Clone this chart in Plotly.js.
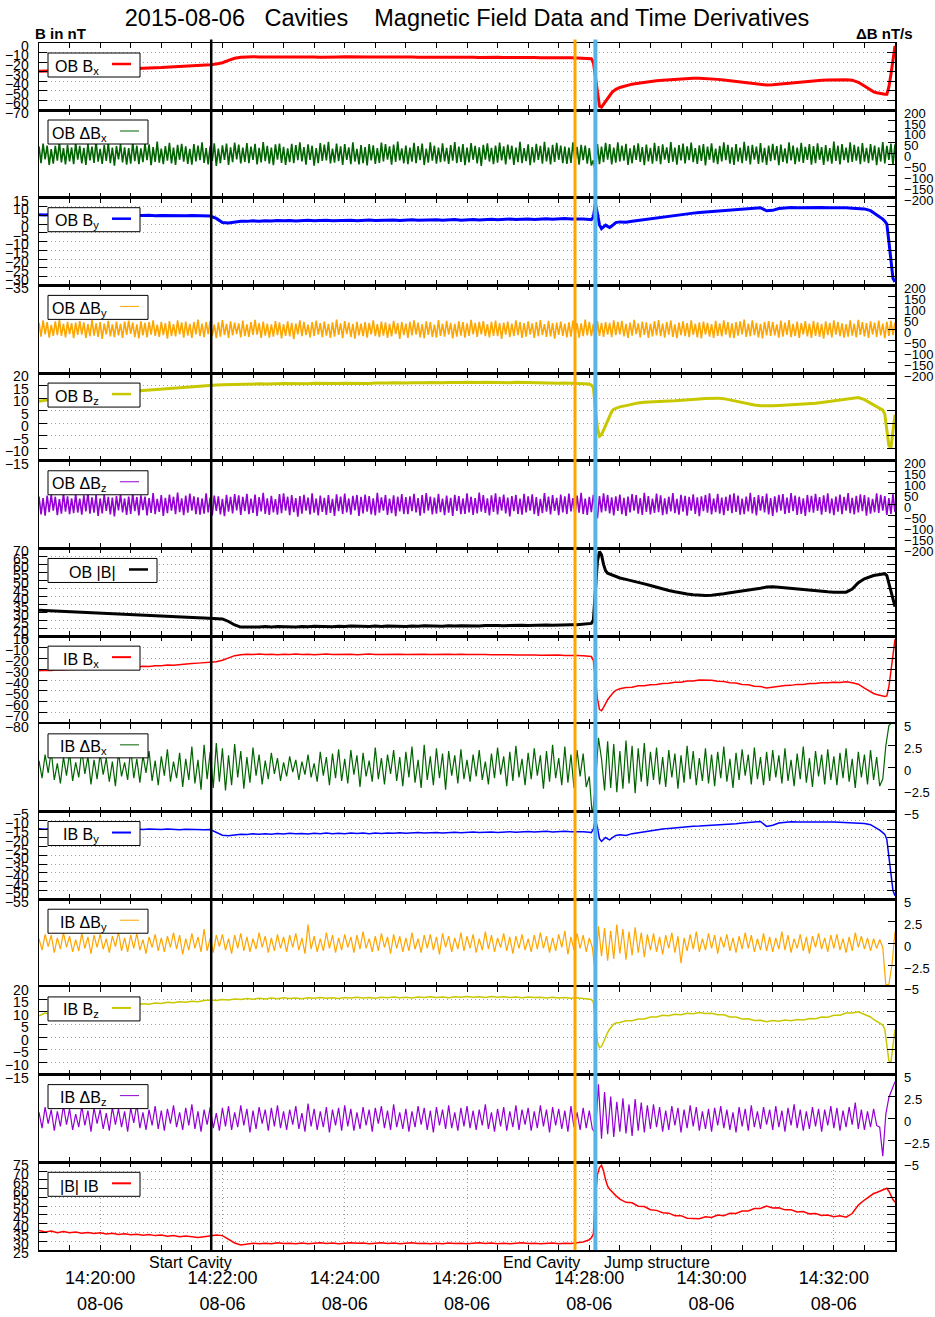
<!DOCTYPE html>
<html><head><meta charset="utf-8">
<script src="https://cdn.plot.ly/plotly-3.0.1.min.js"></script>
<style>html,body{margin:0;padding:0;background:#fff}#chart{width:935px;height:1317px}</style>
</head><body><div id="chart"></div>
<script>
// ---------------- DATA ----------------
// time of B samples, seconds after 2015-08-06 14:19:00
const tB = [
0,6,12,18,24,30,36,42,48,54,
60,66,72,78,84,90,96,102,108,114,
120,126,132,138,144,150,156,162,168,174,
180,186,192,198,204,210,216,222,228,234,
240,246,252,258,264,270,276,282,288,294,
300,306,312,318,324,330,336,342,348,354,
360,366,372,378,384,390,396,402,408,414,
420,426,432,438,444,450,456,462,468,474,
480,486,492,498,504,510,516,522,528,534,
540,
542,544,546,548,550,552,554,556,558,560,562,564,566,
570,576,582,588,594,600,606,612,618,624,
630,636,642,648,654,660,666,672,678,684,
690,696,702,708,714,720,726,732,738,744,
750,756,762,768,774,780,786,792,798,804,
810,816,
819,822,825,828,830,832,834,836,838,840];

const obBx = [
-29.5,-29.2,-29.3,-28.8,-28.9,-28.4,-28.5,-28.1,-28.2,-27.8,
-27.8,-27.4,-27.5,-27.1,-27.1,-26.7,-26.6,-26.3,-26.2,-25.9,
-25.7,-25.4,-25.2,-24.8,-24.5,-24.1,-23.6,-23.1,-22.6,-22.0,
-20.6,-18.2,-16.0,-14.9,-14.5,-14.4,-14.6,-14.3,-14.5,-14.7,
-14.4,-14.6,-14.5,-14.7,-14.4,-14.6,-14.8,-14.5,-14.7,-14.6,
-14.4,-14.6,-14.8,-14.5,-14.7,-14.6,-14.9,-14.7,-14.5,-14.8,
-14.6,-14.7,-14.9,-14.6,-14.8,-14.9,-14.6,-14.8,-15.0,-14.8,
-14.7,-14.9,-15.1,-14.8,-15.0,-14.9,-15.1,-15.0,-15.2,-15.1,
-15.3,-15.2,-15.4,-15.3,-15.5,-15.4,-15.6,-15.5,-15.7,-15.8,
-16.0,
-16.5,-20,-35,-55,-66,-67,-64,-60,-57,-54.5,-52,-50,-48.5,
-46.5,-44.5,-43,-42,-41,-40.2,-39.5,-39,-38.5,-38,
-37.6,-37.2,-36.9,-36.8,-37,-37.4,-38,-38.7,-39.5,-40.3,
-41.2,-42,-42.8,-43.5,-44,-43.6,-43,-42.2,-41.5,-40.8,
-40.2,-39.6,-39.2,-38.9,-38.6,-38.4,-38.3,-38.3,-38.8,-41,
-45,-49.5,
-51,-52,-52.8,-53.2,-53.5,-53.5,-46,-33,-18,-3];

const obBy = [
5.3,5.1,5.4,5.2,5.3,5.0,5.2,5.1,5.3,5.0,
5.1,4.9,5.1,5.0,4.8,5.0,4.9,4.8,5.0,4.7,
4.9,4.8,4.6,4.8,4.7,4.8,4.6,4.7,4.5,3.2,
0.8,0.6,1.2,1.6,1.5,1.8,1.6,1.9,1.7,2.0,
1.8,2.0,1.7,1.9,2.1,1.8,2.0,2.2,1.9,2.1,
2.0,2.2,1.9,2.1,2.3,2.0,2.2,2.1,2.3,2.0,
2.2,2.4,2.1,2.3,2.2,2.4,2.1,2.3,2.5,2.2,
2.4,2.6,2.3,2.5,2.7,2.4,2.6,2.8,2.5,2.7,
2.9,2.6,2.8,3.0,2.7,2.9,3.1,2.8,3.0,2.8,
2.6,
2.5,4,11.5,6,-0.5,-2.6,-1.8,-0.6,-1.4,-2,-1.2,-0.2,0.8,
1.2,1.0,1.6,2.1,2.6,3.0,3.5,4.0,4.4,4.9,
5.4,5.8,6.2,6.5,6.8,7.0,7.1,7.3,7.6,8.0,
8.4,8.8,9.1,9.3,7.5,7.8,8.8,9.2,9.4,9.3,
9.4,9.3,9.2,9.4,9.2,9.3,9.1,9.2,9.0,9.0,
8.6,7.6,
6.4,5.4,4.2,2.8,1.6,0,-10,-22,-31,-33];

const obBz = [
8.7,9.2,9.6,9.9,10.2,10.5,10.8,11.0,11.3,11.5,
11.7,11.9,12.1,12.3,12.4,12.6,12.8,13.0,13.2,13.4,
13.6,13.8,14.0,14.2,14.4,14.6,14.8,14.9,15.0,15.2,
15.3,15.4,15.5,15.5,15.6,15.6,15.7,15.6,15.8,15.7,
15.8,15.7,15.9,15.8,15.7,15.9,15.8,15.9,15.7,15.8,
15.9,15.8,16.0,15.9,15.8,16.0,15.9,16.0,16.1,15.9,
16.0,16.1,16.0,16.1,16.2,16.0,16.1,16.2,16.1,16.2,
16.3,16.1,16.2,16.3,16.2,16.3,16.2,16.1,16.3,16.2,
16.1,16.2,16.0,16.1,16.0,15.9,16.0,15.9,15.8,15.8,
15.6,
15.2,14.2,6,-2,-5.2,-4.6,-2.8,-0.8,1.2,3.0,4.6,5.6,6.0,
6.5,7.0,7.6,8.1,8.4,8.6,8.7,8.8,8.9,9.0,
9.1,9.3,9.5,9.7,9.9,10.0,10.0,9.8,9.3,8.7,
8.1,7.7,7.3,7.0,6.9,7.0,7.1,7.2,7.3,7.4,
7.6,7.8,8.0,8.3,8.6,8.9,9.2,9.6,10.0,10.2,
9.4,8.0,
7.2,6.5,5.8,5.2,3.5,-2,-9,-9.8,-3,3.4];

const obB = [
31.3,31.1,31.0,30.7,30.6,30.3,30.2,30.0,29.8,29.6,
29.4,29.3,29.0,28.9,28.7,28.5,28.3,28.1,28.0,27.8,
27.6,27.4,27.3,27.1,26.9,26.7,26.5,26.4,26.3,26.2,
25.8,24.2,22.0,20.7,20.6,20.9,20.7,21.0,20.8,21.1,
20.9,21.0,20.8,21.1,20.9,21.2,21.0,21.1,20.9,21.2,
21.0,21.3,21.1,21.2,21.0,21.3,21.1,21.4,21.2,21.3,
21.1,21.4,21.2,21.5,21.3,21.4,21.2,21.5,21.3,21.6,
21.4,21.6,21.4,21.7,21.5,21.7,21.6,21.8,21.6,21.9,
21.7,21.9,21.8,22.0,21.9,22.1,22.0,22.2,22.1,22.4,
22.6,
23.0,25,45,62,68,66,60,56,54.5,54,53.5,53,52.2,
51.5,50.6,49.8,48.8,47.8,46.8,45.6,44.6,43.6,42.8,
42.0,41.4,40.9,40.6,40.5,40.7,41.0,41.6,42.2,42.7,
43.2,43.7,44.3,45.0,45.8,46.0,45.6,45.2,44.8,44.5,
44.2,43.8,43.4,43.0,42.8,42.6,42.5,42.6,44.5,48.5,
51,52.5,
53.0,53.4,53.8,54.0,54.2,53.0,48,42,37,33.5];

const ibBx = [
-31.5,-31.0,-31.3,-30.6,-30.9,-30.2,-30.5,-29.8,-30.1,-29.4,
-29.6,-29.0,-29.2,-28.5,-28.8,-28.0,-28.2,-27.5,-27.6,-26.9,
-27.0,-26.3,-26.5,-25.8,-25.6,-25.0,-24.6,-24.2,-23.9,-23.3,
-22.0,-19.8,-17.8,-16.9,-16.5,-16.8,-16.3,-16.7,-16.4,-16.9,
-16.5,-16.8,-16.3,-16.7,-16.4,-16.9,-16.6,-16.3,-16.8,-16.5,
-16.7,-16.4,-16.9,-16.6,-16.3,-16.7,-16.5,-16.9,-16.6,-16.4,
-16.8,-16.5,-16.7,-16.4,-16.8,-16.6,-16.9,-16.5,-16.7,-16.4,
-16.8,-16.6,-16.9,-16.7,-17.0,-16.8,-17.1,-16.9,-17.2,-17.0,
-17.3,-17.1,-17.4,-17.2,-17.5,-17.3,-17.6,-17.4,-17.7,-17.8,
-18.0,
-18.5,-22,-38,-57,-67,-68,-65,-61,-58,-55.5,-53,-51,-49.5,
-48,-46.8,-46.6,-45.3,-45.2,-44.3,-44.1,-43.2,-43.0,-42.1,
-42.0,-41.0,-40.9,-40.0,-40.3,-40.2,-41.2,-41.4,-42.5,-42.8,
-44.0,-44.4,-45.6,-46.0,-47.2,-46.4,-46.2,-45.1,-44.9,-44.0,
-44.0,-43.2,-43.2,-42.5,-42.6,-42.0,-42.2,-41.7,-42.5,-43.8,
-47.5,-51,
-52.3,-53.2,-54,-54.5,-55,-54.5,-46,-32,-17,-3];

const ibBy = [
-14.8,-15.1,-14.7,-15.0,-14.8,-15.2,-14.9,-15.1,-14.7,-15.0,
-15.2,-14.9,-15.1,-14.8,-15.0,-15.3,-15.0,-15.2,-14.9,-15.1,
-15.3,-15.0,-15.2,-15.4,-15.1,-15.3,-15.2,-15.4,-15.3,-16.8,
-18.5,-18.8,-18.2,-17.9,-18.1,-17.7,-18.0,-17.6,-17.9,-17.5,
-17.8,-17.4,-17.7,-17.5,-17.8,-17.4,-17.6,-17.3,-17.7,-17.4,
-17.6,-17.3,-17.5,-17.2,-17.6,-17.3,-17.5,-17.2,-17.4,-17.1,
-17.4,-17.2,-17.0,-17.3,-17.1,-16.9,-17.2,-17.0,-16.8,-17.1,
-16.9,-16.7,-17.0,-16.8,-16.6,-16.9,-16.7,-16.5,-16.8,-16.6,
-16.4,-16.7,-16.5,-16.3,-16.6,-16.4,-16.2,-16.5,-16.3,-16.5,
-16.8,
-17,-15,-9.5,-14,-20.5,-22,-21,-19.8,-20.6,-21.2,-20.2,-19.2,-18.6,
-18.2,-18.6,-17.6,-17.0,-16.5,-16.0,-15.5,-15.0,-14.6,-14.2,
-13.9,-13.6,-13.4,-13.3,-13.1,-13.0,-12.9,-12.6,-12.3,-12.0,
-11.6,-11.2,-10.9,-10.7,-13.5,-12.8,-11.5,-11.0,-10.8,-10.9,
-10.7,-10.9,-11.0,-10.8,-11.0,-10.9,-11.1,-11.0,-11.2,-11.3,
-11.8,-12.5,
-13.4,-14.5,-15.6,-17,-18,-21,-31,-42,-50,-53];

const ibBz = [
8.5,9.6,9.0,10.2,10.5,10.9,11.4,11.1,11.8,12.0,
11.8,12.4,12.2,12.7,12.5,13.0,12.8,13.3,13.1,13.6,
13.4,13.9,13.7,14.1,13.9,14.3,14.1,14.6,14.8,14.6,
15.0,14.8,15.2,15.0,15.4,15.1,15.5,15.2,15.6,15.3,
15.7,15.4,15.6,15.3,15.7,15.5,15.8,15.5,15.7,15.4,
15.8,15.6,15.9,15.6,15.8,15.5,15.9,15.7,16.0,15.7,
15.9,15.6,16.0,15.8,16.1,15.8,16.0,15.7,16.1,15.9,
16.2,15.9,16.1,15.8,16.2,15.9,16.1,15.8,16.0,15.7,
16.0,15.8,15.9,15.6,15.9,15.6,15.8,15.5,15.7,15.4,
15.3,
15.0,14.0,6,-2,-4.2,-3.8,-2.0,0,1.8,3.2,4.4,5.2,5.6,
5.8,6.5,6.5,7.2,7.2,8.0,8.0,8.7,8.5,9.1,
8.9,9.5,9.3,9.8,9.4,9.5,8.9,8.9,8.0,8.0,
7.2,7.3,6.6,6.7,6.1,6.6,6.3,6.8,6.5,7.0,
6.8,7.4,7.3,8.0,7.9,8.7,8.7,9.6,9.6,10.1,
9.2,8.0,
7.0,6.2,5.5,4.8,3.0,-3,-9.5,-10,-3.5,3.0];

const ibB = [
36.1,35.3,35.8,34.9,35.6,34.8,35.2,34.6,35.0,34.4,
34.8,34.1,34.5,33.9,34.2,33.7,34.0,33.4,33.8,33.2,
33.5,32.9,33.3,32.6,33.0,32.4,32.1,32.6,33.2,33.6,
33.2,31.0,29.0,27.9,28.6,28.9,28.5,28.9,28.6,29.1,
28.7,28.9,28.5,29.0,28.6,28.8,29.2,28.7,29.0,28.6,
28.9,29.2,28.8,29.0,28.6,28.9,29.1,28.7,29.0,28.5,
28.8,29.1,28.7,28.9,28.5,28.9,28.6,29.0,28.7,28.9,
28.5,28.8,29.1,28.7,29.0,28.6,28.9,28.5,28.8,29.1,
28.7,28.9,28.5,28.8,29.0,28.6,28.9,28.7,29.1,29.6,
30.8,
32.0,34,55,68,72,73.3,70,65,61.4,59.6,58.2,57.0,56.0,
54.0,52.2,51.9,50.0,49.8,48.0,47.6,46.2,46.0,44.6,
44.6,43.1,43.0,42.8,43.9,43.6,44.9,44.6,45.9,45.8,
47.2,47.2,48.6,48.7,50.1,49.0,49.1,47.9,47.9,46.7,
46.9,45.6,45.8,44.7,44.9,44.0,44.5,43.7,45.8,50.6,
53.5,56.2,
57.2,57.8,58.6,59.2,59.8,60.2,58.5,56,53.8,52.2];

// outboard time derivatives, one sample every 2 s from 14:19:00
const dtOB = 2;
const obDBx = [
34,-42,47,-25,38,-51,22,-45,36,-31,54,-39,26,-48,41,-34,29,-47,51,-26,
36,-44,27,-50,44,-30,33,-41,57,-36,23,-46,40,-32,49,-43,28,-54,35,-25,
45,-39,30,-49,26,-45,52,-33,37,-47,25,-38,48,-29,43,-52,31,-37,56,-40,
24,-47,35,-31,50,-44,28,-51,41,-27,46,-36,34,-46,23,-49,45,-35,38,-29,
53,-41,26,-48,36,-32,48,-55,24,-43,39,-28,47,-50,30,-38,51,-25,42,-44,
29,-37,49,-42,33,-28,46,-48,27,-39,54,-33,36,-45,28,-52,43,-26,47,-41,
32,-50,25,-38,46,-43,40,-29,52,-34,31,-49,43,-27,37,-54,26,-42,49,-32,
42,-30,55,-44,24,-40,47,-33,34,-51,44,-28,30,-47,53,-35,23,-48,40,-42,
31,-53,44,-30,39,-46,26,-41,51,-35,45,-26,34,-49,42,-37,56,-30,25,-43,
38,-47,28,-36,50,-42,35,-29,47,-51,24,-40,53,-31,37,-45,29,-38,48,-34,
27,-46,40,-31,54,-43,33,-37,45,-52,28,-39,49,-27,36,-44,30,-55,41,-26,
48,-35,27,-47,38,-40,51,-30,34,-48,42,-25,37,-50,28,-38,55,-42,26,-33,
43,-52,31,-39,46,-28,36,-45,55,-34,29,-48,41,-37,50,-27,38,-43,33,-46,
28,-41,52,-36,32,-49,41,-29,38,-45,26,-53,-30,-85,45,-47,33,-38,50,-26,
44,-48,29,-40,53,-35,37,-31,46,-50,25,-43,39,-28,48,-37,31,-52,42,-34,
27,-45,50,-33,35,-47,43,-26,30,-41,54,-36,28,-49,40,-30,47,-44,34,-29,
51,-38,26,-46,39,-32,45,-53,33,-27,48,-40,24,-47,37,-34,52,-29,41,-45,
30,-50,44,-35,28,-42,55,-31,36,-48,41,-26,33,-46,49,-39,27,-51,38,-33,
46,-29,35,-52,42,-37,25,-44,53,-30,38,-47,29,-36,50,-41,32,-28,45,-49,
35,-42,48,-27,31,-50,40,-34,26,-45,56,-32,37,-48,44,-29,28,-40,52,-37,
41,-31,33,-47,49,-36,27,-43,45,-30,38,-52,30,-35,54,-44,36,-28,47,-50,
43];
const obDBy = [
29,-34,40,-23,32,-38,20,-30,36,-27,43,-31,25,-37,34,-22,28,-41,30,-26,
37,-25,31,-39,23,-32,42,-29,27,-35,33,-44,26,-24,38,-33,22,-36,35,-28,
24,-40,35,-26,39,-21,30,-36,22,-42,36,-28,29,-37,32,-25,41,-30,21,-35,
34,-27,28,-43,37,-31,23,-33,40,-23,31,-38,35,-29,24,-40,33,-24,44,-32,
26,-36,33,-22,38,-30,21,-41,31,-34,42,-27,24,-39,36,-28,30,-22,27,-37,
39,-31,22,-35,32,-26,43,-25,28,-40,35,-29,25,-38,22,-34,37,-27,31,-42,
23,-30,36,-33,29,-45,26,-23,40,-32,34,-27,21,-37,33,-30,39,-25,28,-36,
35,-29,24,-39,31,-34,44,-26,27,-41,37,-22,30,-35,25,-43,34,-28,26,-32,
32,-38,29,-24,41,-31,23,-36,35,-29,31,-40,24,-33,38,-22,28,-44,33,-27,
26,-39,34,-28,40,-24,30,-37,23,-41,36,-26,32,-35,21,-38,42,-30,25,-34,
38,-25,29,-42,24,-34,36,-29,33,-38,27,-30,43,-23,29,-35,34,-23,37,-31,
23,-37,34,-30,39,-32,28,-44,30,-25,35,-36,26,-31,41,-27,32,-39,28,-34,
36,-24,27,-40,33,-31,42,-27,23,-35,38,-33,28,-43,30,-26,35,-30,25,-37,
31,-34,39,-23,28,-38,27,-32,44,-28,34,-31,24,-58,37,-30,29,-35,32,-25,
29,-36,41,-27,34,-24,38,-33,25,-40,30,-29,43,-22,27,-37,35,-26,31,-39,
24,-33,37,-28,42,-31,26,-38,33,-25,39,-35,22,-41,30,-27,36,-32,28,-36,
40,-26,25,-37,31,-42,35,-24,29,-34,23,-39,38,-30,27,-33,41,-25,32,-38,
27,-41,33,-29,36,-23,44,-35,26,-31,40,-27,29,-37,24,-42,34,-28,37,-30,
33,-28,22,-38,39,-34,30,-26,42,-36,25,-32,35,-40,28,-24,37,-33,26,-39,
38,-30,31,-35,24,-43,36,-27,29,-37,41,-25,33,-31,27,-38,23,-34,40,-29,
25,-37,43,-26,32,-33,28,-40,36,-24,30,-35,39,-28,26,-41,34,-30,38,-27,
31];
const obDBz = [
37,-45,30,-50,41,-34,46,-27,36,-48,25,-41,52,-32,38,-44,29,-39,49,-36,
27,-46,42,-31,54,-41,33,-37,44,-51,28,-40,47,-29,35,-45,32,-54,39,-26,
48,-35,28,-47,37,-42,51,-30,34,-49,42,-25,37,-49,30,-38,53,-44,26,-33,
43,-52,31,-39,46,-28,36,-44,55,-34,29,-48,41,-37,50,-27,38,-43,33,-46,
28,-41,52,-36,32,-49,41,-29,38,-45,26,-53,45,-32,35,-40,48,-26,42,-47,
35,-30,49,-44,27,-38,46,-51,34,-31,54,-42,29,-47,40,-35,25,-46,48,-39,
51,-28,36,-48,43,-34,30,-55,39,-41,45,-27,32,-45,52,-37,28,-49,41,-33,
31,-47,43,-38,26,-52,47,-30,37,-42,50,-35,28,-46,40,-26,44,-51,35,-40,
46,-32,39,-45,29,-49,54,-37,33,-28,44,-47,27,-39,42,-53,36,-31,48,-43,
34,-44,38,-30,49,-36,30,-50,44,-39,53,-28,37,-45,32,-41,49,-34,27,-48,
41,-37,31,-52,45,-29,39,-44,28,-42,51,-35,36,-47,30,-40,55,-32,43,-38,
29,-49,42,-33,52,-45,35,-27,46,-40,32,-54,39,-30,44,-43,27,-46,49,-36,
38,-28,47,-44,34,-51,26,-39,53,-32,37,-45,43,-29,31,-48,46,-35,38,-43,
50,-31,30,-46,41,-37,54,-43,28,-47,35,-34,45,-27,-62,39,-36,52,-30,44,
-40,33,-49,38,-29,46,-44,31,-52,37,-35,48,-28,43,-41,30,-47,54,-33,39,
-45,27,-38,50,-34,42,-48,29,-43,36,-31,53,-39,26,-46,45,-32,40,-50,35,
-27,47,-42,33,-53,38,-30,44,-37,51,-45,28,-34,49,-41,32,-48,36,-29,46,
-39,52,-33,41,-46,27,-44,37,-31,54,-40,34,-49,43,-28,39,-36,50,-45,30,
-51,38,-35,45,-27,48,-43,32,-38,53,-30,41,-47,36,-42,29,-52,44,-34,40,
-37,49,-29,34,-46,42,-33,51,-40,28,-48,37,-32,46,-44,35,-27,53,-39,31,
-45,40,-36,47,-30,43,-50,33,-41,26,-35,52,-38,45,-28,39,-47,30,-42,48,
-34];

// inboard time derivatives, one sample every 3 s from 14:19:00
const dtIB = 3;
const ibDBx = [
0.8,-1.2,1.5,-0.6,1.9,-1.4,0.5,-1.8,1.2,-0.9,1.7,-1.5,0.6,-1.1,2.0,-0.7,1.3,-1.9,0.9,-1.3,
1.6,-0.8,1.1,-1.6,0.7,-2.1,1.8,-1.0,0.6,-1.4,2.2,-1.2,1.0,-1.7,1.4,-0.6,1.9,-1.5,0.8,-2.0,
1.3,-0.9,2.1,-1.6,0.7,-1.2,1.7,-2.2,1.0,-1.4,2.4,-1.8,0.9,-2.5,2.6,-1.3,1.8,-2.3,2.8,-1.6,
2.2,-2.6,1.4,-2.0,2.7,-1.1,1.9,-2.4,1.2,-1.7,2.3,-0.9,1.5,-1.9,0.8,-1.3,1.7,-0.7,1.1,-1.5,
0.6,-1.0,1.3,-0.5,0.9,-1.4,0.7,-0.8,1.5,-1.1,0.5,-1.6,1.8,-0.9,1.2,-2.0,1.6,-1.2,2.1,-1.5,
1.0,-1.8,2.0,-0.8,1.4,-2.2,1.7,-1.0,0.8,-1.6,2.3,-1.3,1.1,-1.9,1.5,-0.7,2.0,-1.5,1.2,-2.1,
1.8,-1.1,2.4,-1.7,0.9,-2.3,2.6,-1.4,1.3,-2.0,2.2,-1.2,1.6,-2.5,1.9,-0.9,1.4,-1.8,2.1,-1.3,
0.9,-1.6,1.5,-1.0,2.0,-1.4,0.7,-1.9,1.6,-1.2,2.3,-0.8,1.3,-2.1,1.8,-1.5,2.5,-1.1,1.0,-2.0,
1.7,-1.3,2.2,-0.9,1.4,-2.4,1.9,-1.6,2.6,-1.2,1.1,-2.0,2.4,-1.7,1.5,-2.3,2.0,-1.0,1.6,-2.2,
-1.0,-5.6,-2.0,3.4,1.0,-2.6,3.0,-2.3,2.7,-2.8,1.9,-2.4,3.1,-1.8,2.5,-2.9,2.2,-1.6,2.8,-2.1,
1.8,-1.4,2.3,-1.9,1.2,-2.2,2.0,-1.1,1.6,-2.4,1.4,-1.7,2.5,-1.3,1.9,-2.0,1.1,-1.5,2.2,-1.8,
1.5,-2.1,1.8,-1.2,2.4,-1.6,1.0,-2.3,1.7,-1.4,2.1,-0.9,1.5,-1.9,2.3,-1.3,1.2,-2.0,1.8,-1.5,
2.0,-1.1,1.4,-1.8,2.2,-1.5,0.9,-2.1,1.6,-1.3,2.4,-1.7,1.1,-2.2,1.9,-1.0,1.5,-1.9,2.1,-1.4,
1.3,-2.0,1.7,-1.2,2.2,-1.6,1.0,-2.3,1.8,-1.1,1.5,-1.9,2.0,-1.4,1.2,-2.1,-1.3,2.5,4.8,5.2,
5.5];
const ibDBy = [
0.5,-0.8,1.0,-0.4,0.9,-1.1,0.6,-0.7,1.2,-0.5,0.8,-1.0,0.4,-0.9,1.1,-0.6,0.7,-1.2,0.9,-0.5,
1.0,-0.7,0.5,-1.1,0.8,-0.4,1.3,-0.9,0.6,-1.0,0.9,-0.6,1.1,-0.8,0.4,-1.2,0.7,-0.5,1.0,-0.9,
0.6,-1.0,0.8,-0.5,1.2,-0.7,0.9,-1.3,0.5,-0.8,1.1,-0.6,0.7,-1.0,1.6,-0.9,0.6,-1.1,0.9,-0.4,
1.0,-0.8,0.5,-1.2,0.9,-0.6,1.1,-0.9,0.7,-1.0,0.5,-0.7,1.2,-0.5,0.8,-1.1,0.6,-0.9,1.0,-0.6,
0.7,-1.0,0.9,-0.5,1.1,-0.8,0.6,-1.2,2.1,-0.7,0.8,-1.0,0.5,-0.9,1.2,-0.6,0.9,-1.1,0.6,-0.8,
1.0,-0.5,0.7,-1.1,0.9,-0.7,1.3,-0.6,0.5,-1.0,0.8,-0.9,1.1,-0.5,0.7,-1.2,1.0,-0.6,0.8,-1.0,
0.6,-0.9,1.2,-0.7,0.5,-1.1,0.9,-0.6,1.0,-0.8,0.7,-1.3,1.1,-0.5,0.8,-1.0,0.6,-0.7,1.2,-0.9,
0.8,-0.6,1.0,-1.1,0.5,-0.8,1.3,-0.7,0.9,-1.0,0.6,-0.5,1.1,-0.9,0.7,-1.2,0.8,-0.6,1.0,-0.8,
0.5,-1.0,0.9,-0.7,1.2,-0.6,0.8,-1.1,0.6,-0.9,1.0,-0.5,1.4,-1.3,0.7,-0.8,1.1,-0.6,0.9,-1.0,
0.6,-0.5,-3.6,1.9,-1.5,1.7,-2.0,1.4,-1.8,2.1,-1.2,1.6,-1.9,1.3,-1.4,1.8,-1.1,1.2,-1.6,1.0,
-0.8,1.1,-1.0,0.7,-1.3,0.9,-0.6,1.2,-1.1,0.8,-2.3,0.6,-0.9,1.0,-0.7,1.3,-1.0,0.5,-0.8,1.1,
-0.6,0.9,-1.2,0.7,-0.5,1.0,-0.9,0.6,-1.1,0.8,-0.7,1.2,-0.6,0.9,-1.0,0.5,-0.8,1.1,-0.9,0.7,
-1.0,0.6,-0.7,1.3,-0.8,0.9,-1.1,0.5,-0.6,1.0,-0.9,0.7,-1.2,0.8,-0.5,1.1,-0.7,0.6,-1.0,0.9,
-0.6,1.0,-0.8,0.5,-1.1,0.7,-0.9,1.2,-0.5,0.8,-0.7,0.6,-0.9,0.5,-0.6,0.4,-0.5,-4.8,-4.7,-2.5,
1.3];
const ibDBz = [
0.7,-1.1,1.3,-0.6,1.0,-1.4,0.8,-0.9,1.5,-0.7,1.1,-1.3,0.5,-1.0,1.4,-0.8,0.9,-1.5,1.2,-0.6,
1.0,-1.2,0.6,-1.4,1.3,-0.7,1.1,-1.0,0.8,-1.5,1.2,-0.5,1.6,-1.1,0.7,-1.3,1.0,-0.8,1.4,-1.2,
0.9,-1.4,1.1,-0.6,1.5,-1.0,0.7,-1.3,1.2,-0.8,1.6,-1.2,0.8,-1.5,1.0,-0.7,1.3,-1.1,0.6,-1.4,
1.2,-0.9,1.4,-1.3,0.7,-1.0,1.5,-0.8,1.1,-1.6,0.9,-1.2,1.3,-0.6,1.0,-1.4,1.2,-0.9,1.5,-1.1,
0.8,-1.3,1.0,-0.7,1.4,-1.2,0.6,-1.5,1.7,-0.9,1.1,-1.3,0.8,-1.0,1.3,-1.6,1.0,-0.8,1.2,-1.4,
1.5,-0.9,1.1,-1.4,0.7,-1.2,1.3,-0.8,1.0,-1.5,1.2,-0.6,1.4,-1.1,0.9,-1.3,1.6,-1.0,0.7,-1.2,
1.1,-1.5,0.8,-1.0,1.4,-0.7,1.2,-1.3,0.9,-1.6,1.3,-0.8,1.0,-1.2,1.5,-1.1,0.7,-1.4,1.2,-0.9,
1.4,-1.1,0.9,-1.3,1.0,-0.8,1.6,-1.2,0.7,-1.5,1.1,-0.9,1.3,-1.4,0.8,-1.0,1.5,-1.3,1.0,-0.7,
1.2,-1.4,0.8,-1.1,1.5,-0.9,1.0,-1.6,1.3,-0.8,1.1,-1.2,0.9,-1.5,1.4,-1.0,0.7,-1.3,1.2,-1.1,
0.9,-1.2,-1.6,3.9,-2.3,3.0,-1.8,2.5,-2.1,1.9,-1.5,2.3,-1.7,1.6,-2.0,2.2,-1.4,1.8,-1.6,1.5,
-1.2,1.6,-1.0,1.3,-1.5,0.9,-1.3,1.4,-0.8,1.2,-1.6,1.0,-1.1,1.5,-0.9,1.3,-1.4,0.8,-1.2,1.1,
-1.5,1.2,-0.8,1.4,-1.1,1.0,-1.3,0.7,-1.6,1.3,-0.9,1.1,-1.4,1.5,-1.0,0.8,-1.2,1.3,-0.7,1.0,
-1.3,1.4,-1.0,0.9,-1.5,1.2,-0.8,1.6,-1.1,1.0,-1.4,0.8,-1.2,1.3,-0.9,1.1,-1.5,1.0,-0.8,1.4,
-1.1,1.2,-1.4,0.9,-1.0,1.3,-0.7,1.8,-1.2,1.0,-1.3,0.8,-1.0,1.1,-0.8,-1.0,-4.3,0.5,2.4,3.4,
4.2];

// events (seconds after 14:19:00)
const eventTimes = [169, 526, 546];
const eventNames = ['Start Cavity', 'End Cavity', 'Jump structure'];
const eventColors = ['#000000', '#ffa500', '#56b4e9'];

// ---------------- STYLE / LAYOUT ----------------
const FONT = 'Liberation Sans, Arial, Helvetica, sans-serif';
const T0 = Date.UTC(2015, 7, 6, 14, 19, 0);
function toDate(s) { return new Date(T0 + s * 1000).toISOString().replace('T', ' ').replace('Z', ''); }
const xRange = [toDate(0), toDate(840)];

const panels = [
 {name:'OB B<sub>x</sub>', y:obBx, dt:0, color:'#ff0000', w:3, sw:2.5, range:[-70,0], dtick:10, keyW:92},
 {name:'OB \u0394B<sub>x</sub>', y:obDBx, dt:dtOB, color:'#006400', w:1.6, sw:1, range:[-200,200], dtick:50, keyW:100},
 {name:'OB B<sub>y</sub>', y:obBy, dt:0, color:'#0000ff', w:3, sw:2.5, range:[-35,15], dtick:5, keyW:92},
 {name:'OB \u0394B<sub>y</sub>', y:obDBy, dt:dtOB, color:'#ffa500', w:1.6, sw:1, range:[-200,200], dtick:50, keyW:100},
 {name:'OB B<sub>z</sub>', y:obBz, dt:0, color:'#c8c800', w:3, sw:2.5, range:[-15,20], dtick:5, keyW:92},
 {name:'OB \u0394B<sub>z</sub>', y:obDBz, dt:dtOB, color:'#9400d3', w:1.6, sw:1, range:[-200,200], dtick:50, keyW:100},
 {name:'OB |B|', y:obB, dt:0, color:'#000000', w:3, sw:2.5, range:[15,70], dtick:5, keyW:109},
 {name:'IB B<sub>x</sub>', y:ibBx, dt:0, color:'#ff0000', w:1.5, sw:2, range:[-80,0], dtick:10, keyW:92},
 {name:'IB \u0394B<sub>x</sub>', y:ibDBx, dt:dtIB, color:'#006400', w:1.2, sw:1, range:[-5,5], dtick:2.5, keyW:100},
 {name:'IB B<sub>y</sub>', y:ibBy, dt:0, color:'#0000ff', w:1.5, sw:2, range:[-55,-5], dtick:5, keyW:92},
 {name:'IB \u0394B<sub>y</sub>', y:ibDBy, dt:dtIB, color:'#ffa500', w:1.2, sw:1, range:[-5,5], dtick:2.5, keyW:100},
 {name:'IB B<sub>z</sub>', y:ibBz, dt:0, color:'#c8c800', w:1.5, sw:2, range:[-15,20], dtick:5, keyW:92},
 {name:'IB \u0394B<sub>z</sub>', y:ibDBz, dt:dtIB, color:'#9400d3', w:1.2, sw:1, range:[-5,5], dtick:2.5, keyW:100},
 {name:'|B| IB', y:ibB, dt:0, color:'#ff0000', w:1.5, sw:2, range:[25,75], dtick:5, keyW:92}
];

const L = 39, R = 895, TOP = 43, BOT = 1250;
const PW = R - L, PH = BOT - TOP;
const H1 = 67, HN = (PH - H1) / 13;

const traces = [], shapes = [], annotations = [];
const layout = {
  width: 935, height: 1317, autosize: false,
  margin: {l: L, r: 935 - R, t: TOP, b: 1317 - BOT, pad: 0},
  paper_bgcolor: '#fff', plot_bgcolor: '#fff',
  showlegend: false, hovermode: false,
  font: {family: FONT, color: '#000', size: 14},
  title: {text: '2015-08-06\u00a0\u00a0\u00a0Cavities\u00a0\u00a0\u00a0\u00a0Magnetic Field Data and Time Derivatives',
          font: {family: FONT, size: 23.5, color: '#000'}, x: 0.5, xref: 'paper', xanchor: 'center',
          y: 1 - 18 / 1317, yref: 'container', yanchor: 'middle'}
};

panels.forEach((p, i) => {
  const n = i + 1, sfx = n === 1 ? '' : String(n);
  const isD = p.dt > 0;
  const pTop = i === 0 ? TOP : TOP + H1 + (i - 1) * HN;
  const pH = i === 0 ? H1 : HN;
  const pBot = pTop + pH;
  const fx = px => (px - L) / PW;
  const fy = py => (pBot - py) / pH;

  const tr = {type: 'scatter', mode: 'lines', y: p.y, xaxis: 'x' + sfx, yaxis: 'y' + sfx,
              line: {color: p.color, width: p.w}, hoverinfo: 'skip'};
  if (isD) { tr.x0 = toDate(0); tr.dx = p.dt * 1000; } else { tr.x = tB.map(toDate); }
  traces.push(tr);

  layout['xaxis' + sfx] = {
    domain: [0, 1], anchor: 'y' + sfx, type: 'date', range: xRange,
    showline: true, linecolor: '#000', linewidth: 1.5, mirror: 'ticks',
    ticks: 'inside', ticklen: 5, tickwidth: 1, tickcolor: '#000',
    tick0: toDate(60), dtick: 120000,
    minor: {dtick: 30000, ticks: 'inside', ticklen: 5, tickcolor: '#000', showgrid: false},
    showticklabels: n === 14, tickformat: '%H:%M:%S', tickfont: {size: 18, family: FONT},
    ticklabelstandoff: 11,
    showgrid: n === 14, gridcolor: '#a0a0a0', griddash: '1px,3px', gridwidth: 1,
    zeroline: false, fixedrange: true
  };
  if (n > 1) layout['xaxis' + sfx].matches = 'x';

  const ya = {
    domain: [(BOT - pBot) / PH, (BOT - pTop) / PH], anchor: 'x' + sfx,
    range: p.range, dtick: p.dtick, tick0: 0,
    showline: true, linecolor: '#000', linewidth: 1.5,
    ticklabelshift: 3,
    zeroline: false, fixedrange: true, tickcolor: '#000', tickwidth: 1
  };
  if (isD) {
    Object.assign(ya, {side: 'right', ticks: 'inside', ticklen: 7, mirror: true, showgrid: false,
      ticklabelstandoff: 5, tickfont: {size: 13, family: FONT}});
  } else {
    Object.assign(ya, {side: 'left', ticks: 'inside', ticklen: 8, mirror: 'ticks', showgrid: true,
      gridcolor: '#a0a0a0', griddash: '1px,3px', gridwidth: 1, ticklabelstandoff: 6,
      tickfont: {size: 14, family: FONT}});
  }
  layout['yaxis' + sfx] = ya;

  // key box
  const xr = 'x' + sfx + ' domain', yr = 'y' + sfx + ' domain';
  const bx0 = 48, bx1 = 48 + p.keyW, by0 = pTop + 10, by1 = pTop + 34;
  shapes.push({type: 'rect', xref: xr, yref: yr, x0: fx(bx0), x1: fx(bx1), y0: fy(by1), y1: fy(by0),
               line: {color: '#000', width: 1}, fillcolor: '#fff', layer: 'above'});
  const ls = bx1 - 28, le = bx1 - 9, ly = (by0 + by1) / 2 - 1;
  shapes.push({type: 'line', xref: xr, yref: yr, x0: fx(ls), x1: fx(le), y0: fy(ly), y1: fy(ly),
               line: {color: p.color, width: p.sw}, layer: 'above'});
  annotations.push({xref: xr, yref: yr, x: fx(ls - 11), y: fy((by0 + by1) / 2 + 2), xanchor: 'right', yanchor: 'middle',
                    text: p.name, showarrow: false, font: {size: 16, family: FONT, color: '#000'}});
});

// date line under the time labels
layout.xaxis15 = {overlaying: 'x14', anchor: 'y14', type: 'date', range: xRange, side: 'bottom',
  showline: false, ticks: '', showgrid: false, zeroline: false, tick0: toDate(60), dtick: 120000,
  tickformat: '%m-%d', tickfont: {size: 18, family: FONT}, ticklabelstandoff: 41, fixedrange: true};
traces.push({type: 'scatter', mode: 'lines', x: [], y: [], xaxis: 'x15', yaxis: 'y14', hoverinfo: 'skip'});

// event lines and labels
const labelShift = [23, 7, 7];
const labelAnchor = ['right', 'right', 'left'];
const lineW = [2.5, 3, 4];
eventTimes.forEach((t, k) => {
  shapes.push({type: 'line', xref: 'x', yref: 'paper', x0: toDate(t), x1: toDate(t), y0: 0, y1: 1.003,
               line: {color: eventColors[k], width: lineW[k]}, layer: 'above'});
  annotations.push({xref: 'x', yref: 'paper', x: toDate(t), y: -12 / PH, xanchor: labelAnchor[k], yanchor: 'middle',
                    xshift: labelShift[k], text: eventNames[k], showarrow: false,
                    font: {size: 16, family: FONT, color: '#000'}});
});

annotations.push({xref: 'paper', yref: 'paper', x: (33 - L) / PW, y: (BOT - 33) / PH, xanchor: 'left', yanchor: 'middle',
  text: '<b>B in nT</b>', showarrow: false, font: {size: 15, family: FONT, color: '#000'}});
annotations.push({xref: 'paper', yref: 'paper', x: (915 - L) / PW, y: (BOT - 33) / PH, xanchor: 'right', yanchor: 'middle',
  text: '<b>\u0394B nT/s</b>', showarrow: false, font: {size: 15, family: FONT, color: '#000'}});

layout.shapes = shapes;
layout.annotations = annotations;

Plotly.newPlot('chart', traces, layout, {staticPlot: true, displayModeBar: false});
</script>
</body></html>
